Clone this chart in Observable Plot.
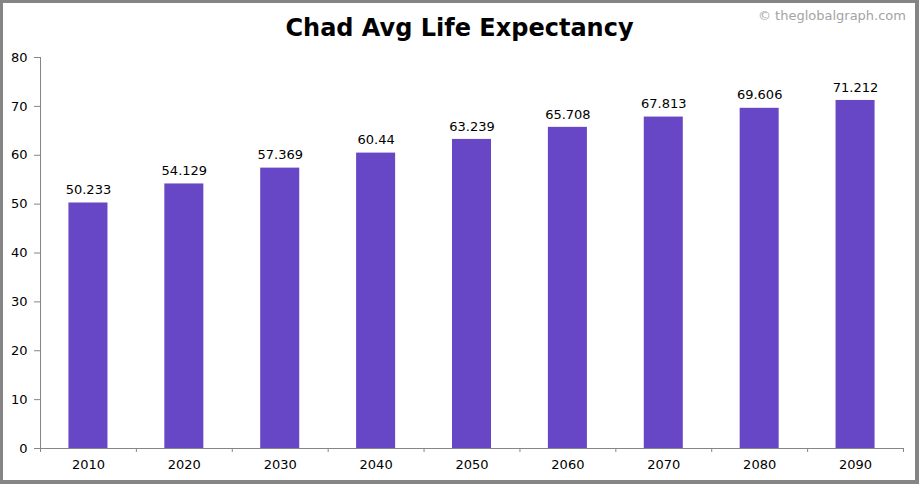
<!DOCTYPE html>
<html>
<head>
<meta charset="utf-8">
<script src="https://cdn.jsdelivr.net/npm/d3@7"></script>
<script src="https://cdn.jsdelivr.net/npm/@observablehq/plot@0.6"></script>
<style>
  html, body { margin: 0; padding: 0; background: #fff; }
  #wrap { position: relative; width: 919px; height: 484px; overflow: hidden; background: #fff; font-family: "DejaVu Sans", Verdana, sans-serif; }
  #title { position: absolute; top: 0; left: 0; width: 919px; height: 48px; }
  #title h1 { margin: 0; position: absolute; top: 13px; left: 0; width: 919px; text-align: center; font-size: 24px; line-height: 30px; font-weight: bold; color: #000; }
  #title .wm { position: absolute; top: 8px; right: 13px; font-size: 13px; line-height: 16px; color: #a3a3a3; }
  #chart { position: absolute; top: 48px; left: 0; }
  #border { position: absolute; inset: 0; box-sizing: border-box; border-style: solid; border-color: #858585; border-width: 3px 4px 4px 3px; pointer-events: none; }
</style>
</head>
<body>
<div id="wrap">
  <div id="title"><h1>Chad Avg Life Expectancy</h1><div class="wm">© theglobalgraph.com</div></div>
  <div id="chart"></div>
  <div id="border"></div>
</div>
<script>
const years = ["2010", "2020", "2030", "2040", "2050", "2060", "2070", "2080", "2090"];
const lifeExpectancy = [50.233, 54.129, 57.369, 60.44, 63.239, 65.708, 67.813, 69.606, 71.212];
const valueLabels = ["50.233", "54.129", "57.369", "60.44", "63.239", "65.708", "67.813", "69.606", "71.212"];
const yTicks = [0, 10, 20, 30, 40, 50, 60, 70, 80];

const data = years.map((year, i) => ({year, value: lifeExpectancy[i], label: valueLabels[i]}));

const W = 919, H = 436;
const mL = 40, mR = 16, mT = 9, mB = 36;
const step = (W - mL - mR) / years.length;
const barColor = "#6847c6";
const axisColor = "#868686";
const inner = 0.593;

const chart = Plot.plot({
  width: W,
  height: H,
  marginLeft: mL,
  marginRight: mR,
  marginTop: mT,
  marginBottom: mB,
  style: {fontFamily: "'DejaVu Sans', Verdana, sans-serif", fontSize: "13px", color: "#000", background: "#fff"},
  x: {domain: years, paddingInner: inner, paddingOuter: inner / 2, align: 0.5, round: false, label: null},
  y: {domain: [0, 80], label: null},
  marks: [
    Plot.barY(data, {x: "year", y: "value", fill: barColor}),
    Plot.text(data, {x: "year", y: "value", text: "label", dy: -13, fill: "#000", fontSize: 13}),
    Plot.frame({anchor: "left", stroke: axisColor, strokeOpacity: 1}),
    Plot.frame({anchor: "bottom", stroke: axisColor, strokeOpacity: 1}),
    Plot.axisY({ticks: yTicks, tickSize: 6, tickPadding: 7, stroke: axisColor, strokeOpacity: 1, fill: "#000", label: null, fontSize: 13}),
    Plot.axisX({tickSize: 0, tickPadding: 11, fill: "#000", label: null, fontSize: 13}),
    Plot.axisX({tickSize: 4, tickFormat: () => "", dx: -step / 2, stroke: axisColor, strokeOpacity: 1, label: null}),
    Plot.axisX({ticks: [years[years.length - 1]], tickSize: 4, tickFormat: () => "", dx: step / 2, stroke: axisColor, strokeOpacity: 1, label: null})
  ]
});
document.getElementById("chart").appendChild(chart);
</script>
</body>
</html>
